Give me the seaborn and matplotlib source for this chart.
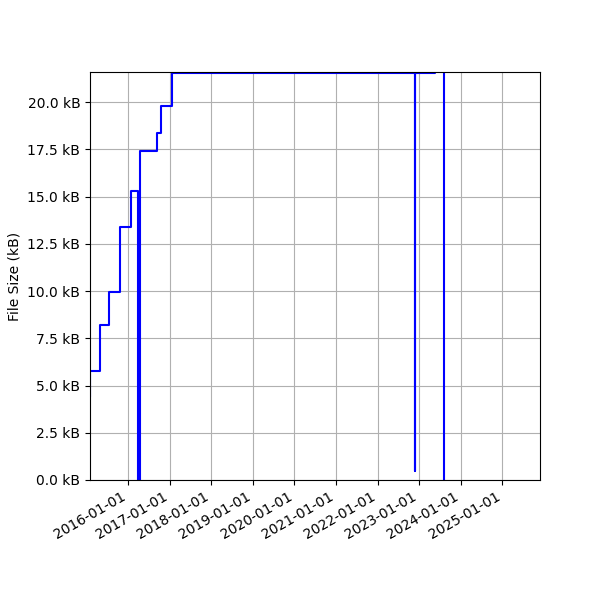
import numpy as np
import pandas as pd
import matplotlib
matplotlib.use("Agg")
import matplotlib.pyplot as plt
import matplotlib.dates as mdates
from matplotlib.ticker import FuncFormatter
import seaborn as sns

# commit dates and file size (kB) at each commit
dates = [
    "2014-12-01", "2015-01-30", "2015-04-30", "2015-07-15", "2015-10-20",
    "2016-01-27", "2016-03-26", "2016-04-12", "2016-09-12", "2016-10-19",
    "2017-01-19", "2022-11-23", "2022-11-23", "2023-05-20", "2023-08-05",
]
sizes_kb = [
    4.4, 5.77, 8.18, 9.93, 13.37,
    15.29, 0.0, 17.42, 18.34, 19.80,
    21.562, 0.49, 21.562, 40.0, 0.0,
]
x_range = ("2015-01-30", "2025-11-28")
y_top = 21.59

df = pd.DataFrame({"Date": pd.to_datetime(dates), "Size": sizes_kb})

fig, ax = plt.subplots(figsize=(6, 6), dpi=100)
sns.lineplot(data=df, x="Date", y="Size", estimator=None, sort=False,
             drawstyle="steps-post", color="blue", linewidth=1.5, ax=ax)

ax.set_xlim(pd.to_datetime(x_range[0]), pd.to_datetime(x_range[1]))
ax.set_ylim(0, y_top)
ax.yaxis.set_major_formatter(FuncFormatter(lambda v, _: f"{v:.1f} kB"))
ax.xaxis.set_major_locator(mdates.YearLocator())
ax.xaxis.set_major_formatter(mdates.DateFormatter("%Y-%m-%d"))
ax.set_xlabel("")
ax.set_ylabel("File Size (kB)")
ax.grid(True)

fig.autofmt_xdate()
fig.subplots_adjust(left=0.15, right=0.9, top=0.88, bottom=0.2)
fig.savefig("out.png", dpi=100)
